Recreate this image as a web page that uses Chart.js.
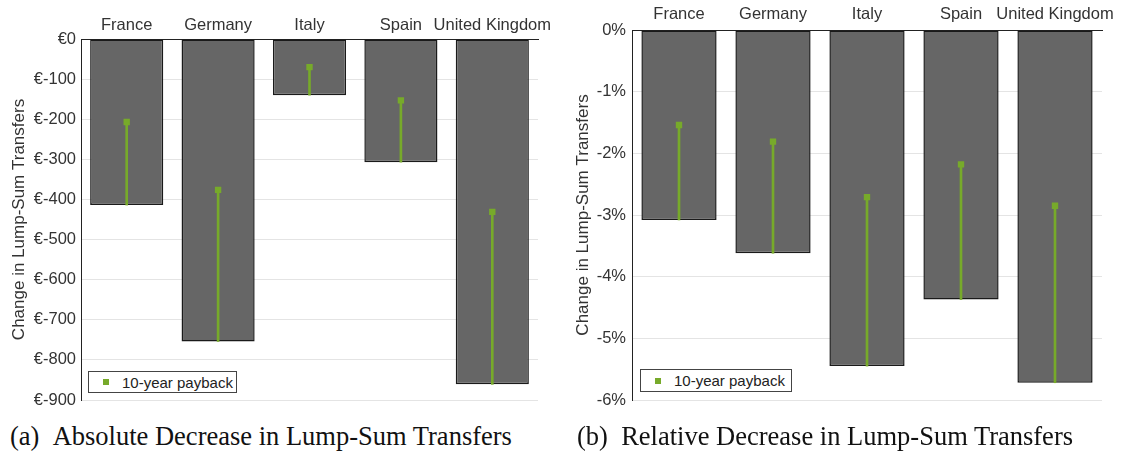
<!DOCTYPE html>
<html>
<head>
<meta charset="utf-8">
<script src="https://cdn.jsdelivr.net/npm/chart.js@4/dist/chart.umd.min.js"></script>
<style>
  html,body{margin:0;padding:0;background:#fff;}
  body{width:1122px;height:457px;position:relative;overflow:hidden;font-family:"Liberation Sans",Arial,sans-serif;}
  .wrap{position:absolute;top:0;height:410px;}
  .legend{position:absolute;border:1px solid #444;background:#fff;font-size:15px;color:#222;box-sizing:border-box;}
  .legend i{position:absolute;width:6px;height:6px;background:#77aa2a;}
  .legend span{position:absolute;top:1px;line-height:19px;}
  .cap{position:absolute;top:421px;font-family:"Liberation Serif","DejaVu Serif",serif;font-size:26.5px;color:#111;white-space:nowrap;}
</style>
</head>
<body>
<div class="wrap" style="left:0;width:560px"><canvas id="abs"></canvas></div>
<div class="wrap" style="left:545px;width:577px"><canvas id="rel"></canvas></div>

<div class="legend" style="left:88px;top:371px;width:149px;height:22px"><i style="left:14px;top:7px"></i><span style="left:33px">10-year payback</span></div>
<div class="legend" style="left:640px;top:369px;width:152px;height:23px"><i style="left:14px;top:8px"></i><span style="left:33px">10-year payback</span></div>

<div class="cap" style="left:10px">(a)&ensp;Absolute Decrease in Lump-Sum Transfers</div>
<div class="cap" style="left:577px">(b)&ensp;Relative Decrease in Lump-Sum Transfers</div>

<script>
const COUNTRIES = ['France','Germany','Italy','Spain','United Kingdom'];
// absolute change, euro
const ABS_TOTAL   = [-414, -754, -140, -307, -861];
const ABS_PAYBACK = [-207, -376, -70, -153, -431];
// relative change, percent
const REL_TOTAL   = [-3.08, -3.62, -5.45, -4.37, -5.72];
const REL_PAYBACK = [-1.54, -1.81, -2.71, -2.18, -2.85];

const GREEN = '#77aa2a', BAR = '#666666', INK = '#333';
const FONT = "'Liberation Sans', Arial, sans-serif";

function makeChart(id, totals, payback, cfg){
  return new Chart(document.getElementById(id), {
    data: {
      labels: COUNTRIES,
      datasets: [
        { type:'line', label:'10-year payback', data: payback, showLine:false,
          pointStyle:'rect', pointRadius:4.5, pointHoverRadius:4.5,
          pointBackgroundColor:GREEN, pointBorderWidth:0, order:0 },
        { type:'bar', label:'stem', data: totals.map((t,i)=>[t, payback[i]]),
          backgroundColor:GREEN, barThickness:2, grouped:false, borderWidth:0, order:1 },
        { type:'bar', label:'total', data: totals, backgroundColor:BAR,
          borderColor:'#1a1a1a', borderWidth:1.5, borderSkipped:false,
          barPercentage:0.8, categoryPercentage:1, grouped:false, order:2 }
      ]
    },
    options: {
      responsive:true, maintainAspectRatio:false, animation:false,
      layout:{ padding:{ top:0, left:0, right:cfg.padRight, bottom:10 } },
      plugins:{ legend:{display:false}, tooltip:{enabled:false} },
      scales:{
        x:{ position:'top', offset:true,
            grid:{ display:false, drawTicks:false },
            border:{ display:true, color:'#222', width:1 },
            ticks:{ color:INK, padding:cfg.xPad, maxRotation:0, minRotation:0, autoSkip:false,
                    font:{ family:FONT, size:16.5 } },
            afterFit: s => { s.height = cfg.top; s.paddingLeft = 0; s.paddingRight = 0; } },
        y:{ min:cfg.min, max:0,
            grid:{ color:'#e4e4e4', lineWidth:1, drawTicks:false },
            border:{ display:true, color:'#222', width:1 },
            ticks:{ stepSize:cfg.step, color:INK, padding:cfg.yPad, font:{ family:FONT, size:16.5 },
                    callback: cfg.fmt },
            title:{ display:true, text:'Change in Lump-Sum Transfers', color:INK,
                    font:{ family:FONT, size:17 }, padding:{ top:cfg.titlePad, bottom:0 } },
            afterFit: s => { s.width = cfg.left; s.paddingTop = 0; s.paddingBottom = 0; } }
      }
    }
  });
}

makeChart('abs', ABS_TOTAL, ABS_PAYBACK, {
  min:-900, step:100, fmt: v => '€' + v,
  left:81, top:39, padRight:22, xPad:4, yPad:5, titlePad:9
});
makeChart('rel', REL_TOTAL, REL_PAYBACK, {
  min:-6, step:1, fmt: v => v + '%',
  left:87, top:30, padRight:20, xPad:6, yPad:6, titlePad:28
});
</script>
</body>
</html>
